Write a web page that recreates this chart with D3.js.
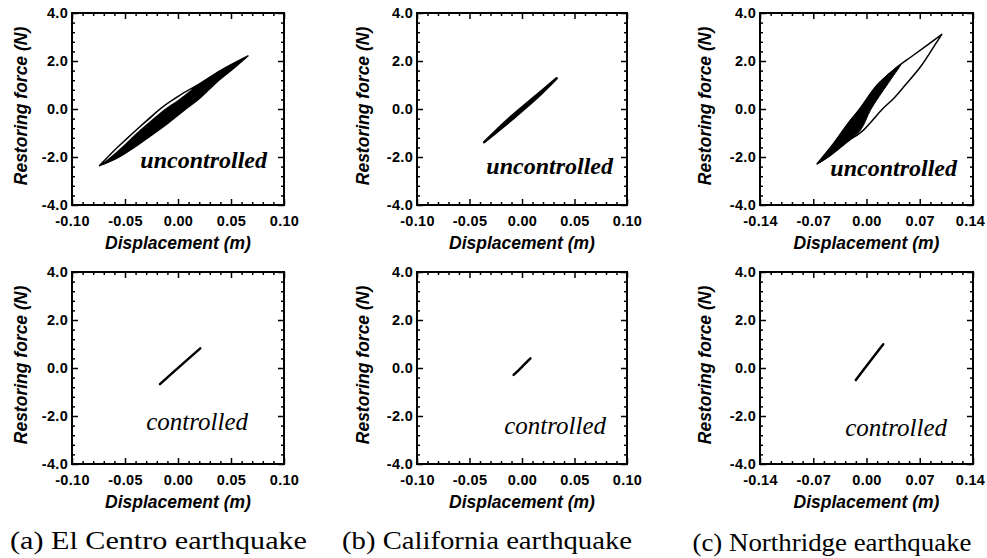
<!DOCTYPE html>
<html>
<head>
<meta charset="utf-8">
<script src="https://cdn.jsdelivr.net/npm/d3@7"></script>
<style>
  body { margin: 0; background: #fff; }
  svg { display: block; }
</style>
</head>
<body>
<svg id="chart" width="987" height="558"></svg>
<script>
// axis ranges and tick values
const xDomainNarrow = [-0.10, 0.10];
const xDomainWide = [-0.14, 0.14];
const xTicksNarrow = [-0.10, -0.05, 0.00, 0.05, 0.10];
const xTicksWide = [-0.14, -0.07, 0.00, 0.07, 0.14];
const yDomain = [-4, 4];
const yTicks = [-4, -2, 0, 2, 4];

const captions = ["(a) El Centro earthquake", "(b) California earthquake", "(c) Northridge earthquake"];
const rowLabels = ["uncontrolled", "controlled"];

// El Centro, uncontrolled: loop outline (upper branch left->right, lower branch right->left)
const elCentroUpper = [[-0.074, -2.36], [-0.058, -1.64], [-0.036, -0.74], [-0.014, 0.10], [0.002, 0.58], [0.021, 1.07], [0.040, 1.60], [0.066, 2.21]];
const elCentroLower = [[0.066, 2.21], [0.052, 1.68], [0.036, 1.10], [0.021, 0.47], [0.005, -0.08], [-0.011, -0.64], [-0.026, -1.12], [-0.042, -1.62], [-0.058, -2.06], [-0.074, -2.36]];
// thin white gap just under the upper-left branch of that loop
const elCentroGapUpper = [[-0.070, -2.22], [-0.058, -1.68], [-0.046, -1.19], [-0.036, -0.78], [-0.025, -0.36], [-0.014, 0.06], [0.002, 0.54], [0.014, 0.85]];
const elCentroGapLower = [[0.014, 0.85], [0.002, 0.44], [-0.014, -0.05], [-0.025, -0.46], [-0.036, -0.88], [-0.046, -1.29], [-0.058, -1.78], [-0.070, -2.22]];

// California, uncontrolled: narrow loop
const californiaUpper = [[-0.036, -1.38], [-0.012, -0.38], [0.011, 0.47], [0.033, 1.28]];
const californiaLower = [[0.033, 1.28], [0.013, 0.42], [-0.010, -0.45], [-0.036, -1.38]];

// Northridge, uncontrolled: large outer loop and dark core
const northridgeUpper = [[-0.065, -2.29], [-0.043, -1.43], [-0.025, -0.63], [-0.009, 0.0], [0.014, 1.0], [0.038, 1.69], [0.062, 2.25], [0.099, 3.11]];
const northridgeLower = [[0.099, 3.11], [0.090, 2.67], [0.071, 1.76], [0.051, 1.0], [0.036, 0.45], [0.021, 0.0], [-0.004, -0.88], [-0.025, -1.36], [-0.047, -1.92], [-0.065, -2.29]];
const northridgeCoreUpper = [[-0.065, -2.29], [-0.043, -1.43], [-0.025, -0.63], [-0.009, 0.0], [0.014, 1.0], [0.038, 1.69], [0.045, 1.82]];
const northridgeCoreLower = [[0.045, 1.82], [0.027, 1.0], [0.006, 0.0], [-0.008, -0.88], [-0.025, -1.36], [-0.047, -1.92], [-0.065, -2.29]];

// controlled responses (almost straight)
const elCentroCtrl = [[-0.017, -0.67], [0.002, 0.08], [0.021, 0.82]];
const californiaCtrl = [[-0.008, -0.29], [0.000, 0.05], [0.008, 0.40]];
const northridgeCtrl = [[-0.014, -0.50], [0.004, 0.25], [0.022, 0.99]];

// layout
const colLeft = [72, 417, 760];
const colWidth = [212, 210, 213];
const rowTop = [13, 272];
const boxH = 192;
const yTitleOffset = [45, 48, 49];
const labelPos = [
  [[-17, 155], [-14, 161], [-16, 163]],
  [[-36, 158], [-21, 162], [-26, 164]]
];
const captionPos = [[158.5, 549, 297], [487, 549, 290], [832, 551, 279]];

const panels = [
  { col: 0, row: 0, xDomain: xDomainNarrow, xTicks: xTicksNarrow, shapes: [
    { upper: elCentroUpper, lower: elCentroLower, fill: "#000", stroke: "#000", sw: 1.5 },
    { upper: elCentroGapUpper, lower: elCentroGapLower, fill: "#fff", stroke: "none", sw: 0 }
  ] },
  { col: 1, row: 0, xDomain: xDomainNarrow, xTicks: xTicksNarrow, shapes: [
    { upper: californiaUpper, lower: californiaLower, fill: "#000", stroke: "#000", sw: 2.5 }
  ] },
  { col: 2, row: 0, xDomain: xDomainWide, xTicks: xTicksWide, shapes: [
    { upper: northridgeUpper, lower: northridgeLower, fill: "none", stroke: "#000", sw: 1.5 },
    { upper: northridgeCoreUpper, lower: northridgeCoreLower, fill: "#000", stroke: "#000", sw: 1 }
  ] },
  { col: 0, row: 1, xDomain: xDomainNarrow, xTicks: xTicksNarrow, lines: [elCentroCtrl] },
  { col: 1, row: 1, xDomain: xDomainNarrow, xTicks: xTicksNarrow, lines: [californiaCtrl] },
  { col: 2, row: 1, xDomain: xDomainWide, xTicks: xTicksWide, lines: [northridgeCtrl] }
];

const svg = d3.select("#chart");
svg.append("rect").attr("width", 987).attr("height", 558).attr("fill", "#fff");

// minor ticks: 4 between each pair of major ticks
function minorTicks(ticks) {
  const out = [];
  for (let i = 0; i < ticks.length - 1; i++) {
    const step = (ticks[i + 1] - ticks[i]) / 5;
    for (let k = 1; k < 5; k++) out.push(ticks[i] + k * step);
  }
  return out;
}

function styleAxis(sel, showText) {
  sel.select(".domain").remove();
  sel.selectAll("line").attr("stroke", "#000").attr("stroke-width", 1.5);
  sel.attr("font-family", "'Liberation Sans', Arial, sans-serif")
    .attr("font-size", 14.5)
    .attr("font-weight", "bold");
  sel.selectAll("text").attr("fill", "#000").attr("letter-spacing", "0.3px");
  if (!showText) sel.selectAll("text").remove();
}

function drawPanel(p) {
  const w = colWidth[p.col];
  const h = boxH;
  const g = svg.append("g")
    .attr("transform", "translate(" + colLeft[p.col] + "," + rowTop[p.row] + ")");

  const x = d3.scaleLinear().domain(p.xDomain).range([0, w]);
  const y = d3.scaleLinear().domain(yDomain).range([h, 0]);

  const line = d3.line()
    .x((d) => x(d[0]))
    .y((d) => y(d[1]))
    .curve(d3.curveCatmullRom.alpha(0.5));

  // hysteresis loops
  (p.shapes || []).forEach((s) => {
    g.append("path")
      .attr("d", line(s.upper) + line(s.lower).replace(/^M/, "L") + "Z")
      .attr("fill", s.fill)
      .attr("stroke", s.stroke)
      .attr("stroke-width", s.sw)
      .attr("stroke-linejoin", "round");
  });

  // controlled responses
  (p.lines || []).forEach((l) => {
    g.append("path")
      .attr("d", line(l))
      .attr("fill", "none")
      .attr("stroke", "#000")
      .attr("stroke-width", 2.5)
      .attr("stroke-linecap", "round");
  });

  const xMinor = minorTicks(p.xTicks);
  const yMinor = minorTicks(yTicks);

  // major ticks, pointing inward on all sides
  const bottom = g.append("g").attr("transform", "translate(0," + h + ")")
    .call(d3.axisBottom(x).tickValues(p.xTicks).tickSize(-6).tickPadding(11).tickFormat((d) => d.toFixed(2)))
    .call(styleAxis, true);
  // last label of the wide axis sits at the page edge: nudge it inside
  if (p.xDomain === xDomainWide) {
    bottom.selectAll(".tick text").filter((d) => d === p.xTicks[p.xTicks.length - 1]).attr("dx", -3);
  }
  g.append("g")
    .call(d3.axisLeft(y).tickValues(yTicks).tickSize(-6).tickPadding(4).tickFormat((d) => d.toFixed(1)))
    .call(styleAxis, true);
  g.append("g")
    .call(d3.axisTop(x).tickValues(p.xTicks).tickSize(-6).tickFormat(""))
    .call(styleAxis, false);
  g.append("g").attr("transform", "translate(" + w + ",0)")
    .call(d3.axisRight(y).tickValues(yTicks).tickSize(-6).tickFormat(""))
    .call(styleAxis, false);

  // minor ticks
  g.append("g").attr("transform", "translate(0," + h + ")")
    .call(d3.axisBottom(x).tickValues(xMinor).tickSize(-3).tickFormat(""))
    .call(styleAxis, false);
  g.append("g")
    .call(d3.axisTop(x).tickValues(xMinor).tickSize(-3).tickFormat(""))
    .call(styleAxis, false);
  g.append("g")
    .call(d3.axisLeft(y).tickValues(yMinor).tickSize(-3).tickFormat(""))
    .call(styleAxis, false);
  g.append("g").attr("transform", "translate(" + w + ",0)")
    .call(d3.axisRight(y).tickValues(yMinor).tickSize(-3).tickFormat(""))
    .call(styleAxis, false);

  // frame
  g.append("rect")
    .attr("width", w)
    .attr("height", h)
    .attr("fill", "none")
    .attr("stroke", "#000")
    .attr("stroke-width", 2);

  // axis titles
  g.append("text")
    .attr("x", w / 2)
    .attr("y", h + 44)
    .attr("text-anchor", "middle")
    .attr("font-family", "'Liberation Sans', Arial, sans-serif")
    .attr("font-size", 17.5)
    .attr("font-weight", "bold")
    .attr("font-style", "italic")
    .text("Displacement (m)");

  g.append("text")
    .attr("transform", "translate(" + (-yTitleOffset[p.col]) + "," + (h / 2 - 3) + ") rotate(-90)")
    .attr("text-anchor", "middle")
    .attr("font-family", "'Liberation Sans', Arial, sans-serif")
    .attr("font-size", 17.5)
    .attr("font-weight", "bold")
    .attr("font-style", "italic")
    .text("Restoring force (N)");

  // uncontrolled / controlled label
  const lp = labelPos[p.row][p.col];
  g.append("text")
    .attr("x", w + lp[0])
    .attr("y", lp[1])
    .attr("text-anchor", "end")
    .attr("font-family", "'Liberation Serif', 'Times New Roman', serif")
    .attr("font-size", p.row === 0 ? 24 : 25)
    .attr("font-weight", p.row === 0 ? "bold" : "normal")
    .attr("font-style", "italic")
    .text(rowLabels[p.row]);
}

panels.forEach(drawPanel);

// captions under each column
captions.forEach((c, i) => {
  svg.append("text")
    .attr("x", captionPos[i][0] - captionPos[i][2] / 2)
    .attr("y", captionPos[i][1])
    .attr("textLength", captionPos[i][2])
    .attr("lengthAdjust", "spacingAndGlyphs")
    .attr("font-family", "'Liberation Serif', 'Times New Roman', serif")
    .attr("font-size", 26)
    .text(c);
});
</script>
</body>
</html>
